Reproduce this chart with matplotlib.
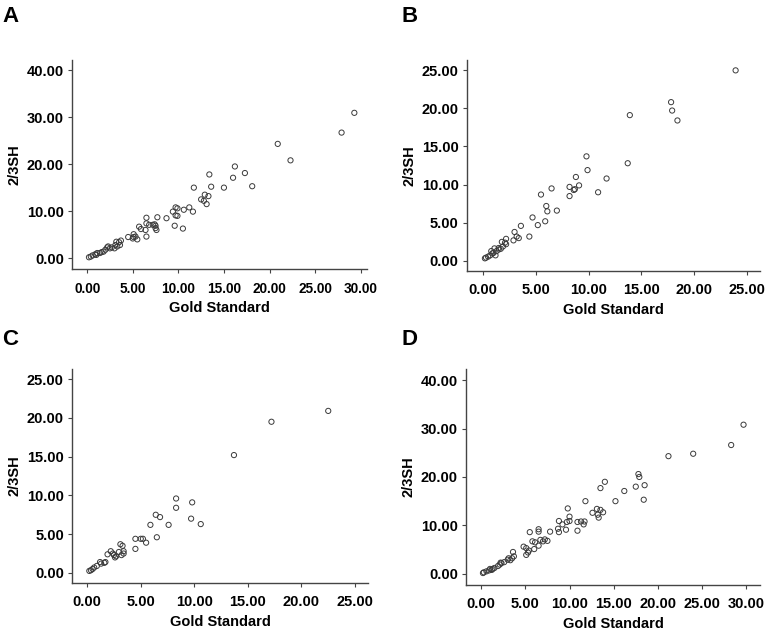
import matplotlib
matplotlib.use('Agg')
import matplotlib.pyplot as plt

plt.rcParams['font.family'] = ['Liberation Sans', 'DejaVu Sans']
plt.rcParams['font.weight'] = 'bold'

# panel A
a_x = [29.3, 27.9, 20.9, 22.3, 16.2, 13.4, 17.3, 16.0, 18.1, 15.0, 13.6, 11.7, 12.9, 13.3,
       12.5, 12.8, 13.1, 11.2, 10.6, 11.6, 9.7, 9.9, 9.4, 9.7, 9.9, 8.7, 7.7, 9.6, 10.5,
       6.5, 6.5, 6.8, 7.2, 7.4, 7.5, 7.5, 7.6, 6.4, 6.5, 5.7, 5.9, 5.1, 5.3, 5.5, 5.1, 5.0,
       4.5, 3.7, 3.5, 3.2, 3.6, 3.3, 3.1, 3.0, 2.7, 2.3, 2.2, 2.5, 1.8, 1.4, 1.1, 0.9, 0.6,
       0.4, 0.2, 1.0, 1.6, 2.0]
a_y = [30.9, 26.7, 24.3, 20.8, 19.5, 17.8, 18.1, 17.1, 15.3, 15.0, 15.2, 15.0, 13.5, 13.2,
       12.5, 12.2, 11.5, 10.8, 10.3, 9.9, 10.8, 10.6, 9.9, 9.1, 9.0, 8.5, 8.7, 6.9, 6.3,
       8.6, 7.4, 7.1, 7.1, 7.2, 6.9, 6.4, 6.0, 6.0, 4.6, 6.7, 6.2, 5.1, 4.6, 4.0, 4.5, 4.2,
       4.5, 3.75, 3.4, 3.5, 2.8, 2.5, 2.8, 2.1, 2.3, 2.5, 2.3, 2.1, 1.4, 1.1, 1.1, 0.85, 0.6,
       0.35, 0.2, 0.7, 1.3, 1.8]

# panel B
b_x = [23.9, 17.8, 17.9, 18.4, 13.9, 13.7, 9.8, 9.9, 11.7, 10.9, 8.8, 9.1, 8.7, 8.6, 8.2,
       8.2, 6.5, 5.5, 6.0, 6.1, 7.0, 5.9, 4.7, 5.2, 3.6, 4.4, 3.0, 3.2, 3.4, 2.9, 2.2, 2.1,
       2.2, 1.8, 1.9, 1.7, 1.5, 1.3, 1.1, 1.2, 0.8, 0.9, 0.7, 0.5, 0.3, 0.2, 1.0, 1.5]
b_y = [24.96, 20.8, 19.7, 18.4, 19.1, 12.8, 13.7, 11.9, 10.8, 9.0, 11.0, 9.9, 9.4, 9.3, 9.7,
       8.5, 9.5, 8.7, 7.2, 6.5, 6.6, 5.2, 5.7, 4.7, 4.6, 3.2, 3.8, 3.2, 3.0, 2.7, 2.9, 2.4,
       2.2, 2.5, 1.9, 1.6, 1.5, 1.3, 1.65, 0.74, 1.3, 1.0, 0.74, 0.57, 0.44, 0.35, 1.05, 1.7]

# panel C
c_x = [22.5, 17.2, 13.7, 8.3, 9.8, 8.3, 6.4, 6.8, 9.7, 5.9, 7.6, 10.6, 4.5, 5.0, 5.2, 5.5,
       6.5, 4.5, 3.1, 3.3, 3.4, 2.96, 3.4, 3.2, 2.7, 2.5, 2.6, 2.2, 2.4, 1.9, 1.7, 1.6, 1.3,
       1.2, 0.9, 0.65, 0.5, 0.35, 0.2]
c_y = [20.9, 19.5, 15.2, 9.6, 9.1, 8.4, 7.5, 7.2, 7.0, 6.2, 6.2, 6.3, 4.4, 4.4, 4.4, 3.9,
       4.6, 3.1, 3.7, 3.5, 2.8, 2.7, 2.5, 2.3, 2.15, 2.3, 2.0, 2.8, 2.5, 2.4, 1.4, 1.3, 1.2,
       1.4, 0.9, 0.7, 0.5, 0.35, 0.26]

# panel D
d_x = [29.7, 28.3, 24.0, 21.2, 17.8, 17.9, 18.5, 17.5, 18.4, 16.2, 15.2, 14.0, 13.5, 11.8,
       9.8, 10.0, 10.0, 9.7, 8.8, 9.2, 9.6, 8.7, 8.8, 10.9, 10.9, 11.3, 11.6, 13.1, 12.6,
       13.2, 13.5, 13.8, 13.3, 11.7, 7.8, 6.5, 5.5, 6.5, 7.5, 7.2, 7.0, 6.7, 6.5, 6.1, 5.8,
       6.0, 5.4, 5.1, 4.8, 5.1, 5.3, 3.6, 3.7, 3.5, 3.1, 3.0, 3.3, 2.6, 2.2, 2.1, 1.9, 1.5,
       1.3, 1.0, 0.9, 0.6, 0.3, 0.2, 2.3, 1.2]
d_y = [30.8, 26.6, 24.8, 24.3, 20.6, 20.0, 18.3, 18.0, 15.3, 17.1, 15.0, 19.0, 17.7, 15.0,
       13.5, 11.8, 10.9, 10.7, 10.9, 10.2, 9.1, 9.3, 8.6, 10.7, 8.9, 10.8, 10.2, 13.4, 12.6,
       12.2, 13.2, 12.7, 11.6, 10.8, 8.7, 9.2, 8.6, 8.7, 6.8, 7.1, 6.7, 7.0, 5.8, 6.5, 6.7,
       5.1, 4.8, 5.3, 5.6, 3.9, 4.4, 4.5, 3.6, 3.2, 3.2, 2.9, 2.8, 2.4, 2.3, 1.9, 1.6, 1.2,
       1.0, 1.0, 0.7, 0.5, 0.3, 0.15, 2.2, 0.8]

panels = [
    ('A', a_x, a_y, [0.094, 0.575, 0.384, 0.330], (-1.64, 30.7), (-2.3, 42.1), [0, 5, 10, 15, 20, 25, 30], [0, 10, 20, 30, 40]),
    ('B', b_x, b_y, [0.608, 0.572, 0.3815, 0.333], (-1.5, 26.2), (-1.3, 26.3), [0, 5, 10, 15, 20, 25], [0, 5, 10, 15, 20, 25]),
    ('C', c_x, c_y, [0.094, 0.079, 0.385, 0.338], (-1.4, 26.2), (-1.3, 26.3), [0, 5, 10, 15, 20, 25], [0, 5, 10, 15, 20, 25]),
    ('D', d_x, d_y, [0.607, 0.076, 0.383, 0.341], (-1.7, 31.6), (-2.3, 42.3), [0, 5, 10, 15, 20, 25, 30], [0, 10, 20, 30, 40]),
]

fig = plt.figure(figsize=(7.68, 6.33), dpi=100)

for label, xs, ys, rect, xl, yl, xt, yt in panels:
    ax = fig.add_axes(rect)
    ax.scatter(xs, ys, s=14, facecolors='none', edgecolors='#3a3a3a', linewidths=0.7)
    ax.set_xlim(xl)
    ax.set_ylim(yl)
    ax.set_xticks(xt)
    ax.set_yticks(yt)
    ax.set_xticklabels([f'{v:.2f}' for v in xt])
    ax.set_yticklabels([f'{v:.2f}' for v in yt])
    for s in ['top', 'right']:
        ax.spines[s].set_visible(False)
    for s in ['left', 'bottom']:
        ax.spines[s].set_color('#444444')
        ax.spines[s].set_linewidth(1.0)
    ax.tick_params(direction='out', length=3, width=0.8, color='#444444', labelsize=10.5)
    ax.tick_params(axis='y', pad=3)
    ax.tick_params(axis='x', pad=6)
    if label == 'A':
        # tick labels under panel A are squeezed together in the original
        ax.tick_params(axis='x', labelsize=9.8)
    ax.set_xlabel('Gold Standard', fontsize=10.5, fontweight='bold', labelpad=4)
    ax.set_ylabel('2/3SH', fontsize=10.5, fontweight='bold', labelpad=4)
    fx = 0.003 if label in 'AC' else 0.523
    fy = 0.991 if label in 'AB' else 0.481
    fig.text(fx, fy, label, fontsize=16, fontweight='bold', va='top', ha='left')

fig.savefig('out.png', dpi=100)
